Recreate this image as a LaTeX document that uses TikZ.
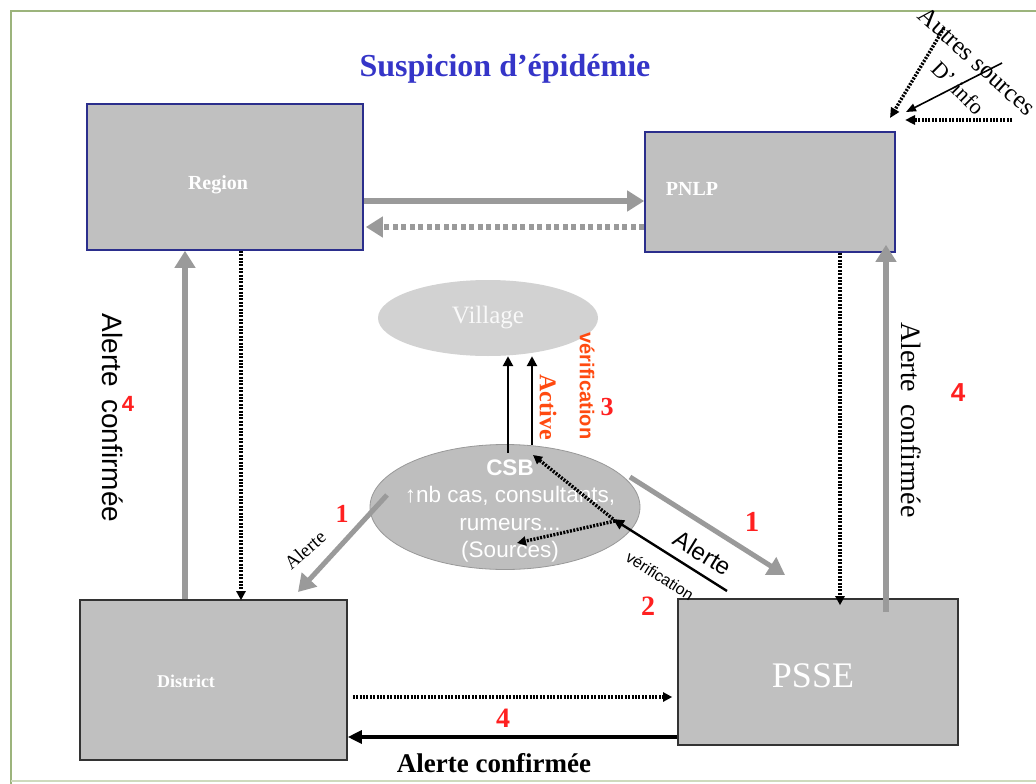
\documentclass[tikz,border=0pt]{standalone}
\usepackage{fontspec}
\setmainfont{Liberation Serif}
\setsansfont{Liberation Sans}
\usetikzlibrary{arrows.meta,calc,shapes.geometric}
\definecolor{boxgray}{HTML}{C0C0C0}
\definecolor{arrgray}{HTML}{9A9A9A}
\definecolor{navy}{HTML}{2B2E8C}
\definecolor{titleblue}{HTML}{3535C8}
\definecolor{redn}{HTML}{FF2020}
\definecolor{orng}{HTML}{FF4A10}
\definecolor{framegreen}{HTML}{9CB47C}
\definecolor{villgray}{HTML}{D2D2D2}
\definecolor{csbgray}{HTML}{BEBEBE}
\tikzset{
  bluebox/.style={draw=navy,line width=1.6pt,fill=boxgray,rectangle,inner sep=0pt},
  darkbox/.style={draw=black!80,line width=1.6pt,fill=boxgray,rectangle,inner sep=0pt},
  grayarrow/.style={draw=arrgray,line width=6pt,-{Triangle[length=17pt,width=20pt]}},
  graydash/.style={draw=arrgray,line width=6pt,dash pattern=on 5pt off 3.5pt,-{Triangle[length=17pt,width=20pt]}},
  dotarrow/.style={draw=black,line width=3.4pt,dash pattern=on 2pt off 1.4pt,-{Triangle[length=9pt,width=9pt]}},
  thinarrow/.style={draw=black,line width=1.4pt,-{Triangle[length=9pt,width=8pt]}},
  blackarrow/.style={draw=black,line width=3.2pt,-{Triangle[length=14pt,width=13pt]}},
  whitebold/.style={text=white,font=\bfseries\fontsize{20}{24}\selectfont},
  rednum/.style={text=redn,font=\bfseries\fontsize{26}{30}\selectfont},
  rednumsf/.style={text=redn,font=\sffamily\bfseries\fontsize{22}{26}\selectfont},
}
\begin{document}
\begin{tikzpicture}[x=1pt,y=-1pt]
\useasboundingbox (0,0) rectangle (1036,784);
\fill[white] (0,0) rectangle (1036,784);
% frame
\draw[framegreen,line width=2.5pt] (11,784) -- (11,11) -- (1036,11);
\draw[framegreen!50,line width=1.5pt] (11,781) -- (1036,781);

% title
\node (title) at (505,69) {\textcolor{titleblue}{\bfseries\fontsize{32}{36}\selectfont Suspicion d’épidémie}};

% boxes
\node[bluebox,minimum width=276pt,minimum height=146pt] (region) at (225,177) {};
\node[whitebold] (regiont) at (218,185) {Region};
\node[bluebox,minimum width=250pt,minimum height=120pt] (pnlp) at (770,192) {};
\node[whitebold] (pnlpt) at (692,189) {PNLP};
\node[darkbox,minimum width=267pt,minimum height=160pt] (district) at (213.5,680) {};
\node[text=white,font=\bfseries\fontsize{18}{22}\selectfont] (districtt) at (186,681) {District};
\node[darkbox,minimum width=280pt,minimum height=146pt] (psse) at (818,672) {};
\node[text=white,font=\fontsize{36}{40}\selectfont] (psset) at (813,676) {PSSE};

% ellipses
\node[ellipse,fill=villgray,minimum width=220pt,minimum height=76pt,inner sep=0pt] (village) at (488,318) {};
\node[text=white!95!gray,font=\fontsize{25}{30}\selectfont] (villaget) at (488,318) {Village};
\node[ellipse,fill=csbgray,draw=gray!80,line width=0.8pt,minimum width=270pt,minimum height=125pt,inner sep=0pt] (csb) at (505,507) {};
\node[text=white,font=\sffamily\fontsize{22.5}{27.5}\selectfont,align=center] (csbt) at (510,511)
  {\textbf{CSB}\\ ↑nb cas, consultants,\\ rumeurs...\\ (Sources)};

% Region <-> PNLP
\draw[grayarrow] (region.east |- 0,201) -- (632,201 -| pnlp.west) ;
\draw[graydash] (pnlp.west |- 0,227) -- ([xshift=2pt]region.east |- 0,227);

% Region <-> District
\draw[grayarrow] (185,0 |- district.north) -- (185,0 |- region.south);
\draw[dotarrow] (241,0 |- region.south) -- ([yshift=-1pt]241,0 |- district.north);

% PNLP <-> PSSE
\draw[dotarrow] (840,0 |- pnlp.south) -- ([yshift=-7pt]840,0 |- psse.north);
\draw[grayarrow] ([yshift=-14pt]886,0 |- psse.north) -- ([yshift=8pt]886,0 |- pnlp.south);

% District <-> PSSE
\draw[dotarrow] ([xshift=5pt]district.east |- 0,697) -- ([xshift=-5pt]psse.west |- 0,697);
\draw[blackarrow] (psse.west |- 0,737) -- (district.east |- 0,737);

% CSB -> District
\coordinate (c1) at (387,495);
\coordinate (d1) at (298,592);
\draw[grayarrow,line width=5pt] (c1) -- (d1);
\node[rotate=41,font=\fontsize{19}{22}\selectfont] (alerte1) at (305,550) {Alerte};
\node[rednum] (n1a) at (342,514) {1};

% CSB -> PSSE
\coordinate (c2) at (630,477);
\coordinate (p2) at (785,575);
\draw[grayarrow,line width=5pt] (c2) -- (p2);
\node[rotate=-31.5,font=\sffamily\fontsize{24}{28}\selectfont] (alerte2) at (703,553) {Alerte};
\node[rednum,font=\bfseries\fontsize{29}{32}\selectfont] (n1b) at (752,522) {1};

% PSSE -> CSB (verification)
\coordinate (p3) at (727,591);
\coordinate (v3) at (613,519);
\draw[thinarrow,line width=2.4pt,-{Triangle[length=11pt,width=10pt]}] (p3) -- (v3);
\node[rotate=-32.5,font=\sffamily\fontsize{16}{18}\selectfont] (verif2) at (660,576) {vérification};
\node[rednum,font=\bfseries\fontsize{28}{32}\selectfont] (n2) at (648,606) {2};
\draw[dotarrow] (v3) -- (533,455);
\draw[dotarrow] ([xshift=2pt,yshift=-2pt]v3) -- (517,543);

% CSB -> Village
\draw[thinarrow,line width=2.6pt,-{Triangle[length=10pt,width=10pt]}] (508,453) -- (508,0 |- village.south);
\draw[thinarrow,line width=2.6pt,-{Triangle[length=10pt,width=10pt]}] (532,445) -- (532,0 |- village.south);
\node[rotate=-90,text=orng,font=\bfseries\fontsize{24}{28}\selectfont] (active) at (548,407) {Active};
\node[rotate=-90,text=orng,font=\sffamily\bfseries\fontsize{20}{24}\selectfont] (verif3) at (587,386) {vérification};
\node[rednum] (n3) at (607,407) {3};

% side labels
\node[rotate=-90,font=\sffamily\fontsize{28}{32}\selectfont] (acl) at (113,418) {Alerte\, confirmée};
\node[rednumsf] (n4l) at (128,404) {4};
\node[rotate=-90,font=\fontsize{28}{32}\selectfont] (acr) at (911,420) {Alerte\, confirmée};
\node[rednumsf,font=\sffamily\bfseries\fontsize{26}{30}\selectfont] (n4r) at (958,393) {4};
\node[rednum,font=\bfseries\fontsize{28}{32}\selectfont] (n4b) at (503,718) {4};
\node[font=\bfseries\fontsize{27}{30}\selectfont] (acb) at (494,763) {Alerte confirmée};

% other sources
\node[rotate=-42,font=\fontsize{25}{28}\selectfont] (autres) at (977,61) {Autres sources};
\node[rotate=-45,font=\fontsize{22}{26}\selectfont] (dinfo) at (958,88) {D’ info};
\coordinate (s1) at (944,28);
\coordinate (s2) at (1002,63);
\coordinate (s3) at (1012,120);
\coordinate (t1) at (890,118);
\draw[dotarrow,-{Triangle[length=10pt,width=9pt]}] (s1) -- (t1);
\draw[thinarrow,line width=1.6pt,-{Triangle[length=10pt,width=8pt]}] (s2) -- (906,112);
\draw[dotarrow,-{Triangle[length=10pt,width=9pt]}] (s3) -- (905,120);
\end{tikzpicture}
\end{document}
